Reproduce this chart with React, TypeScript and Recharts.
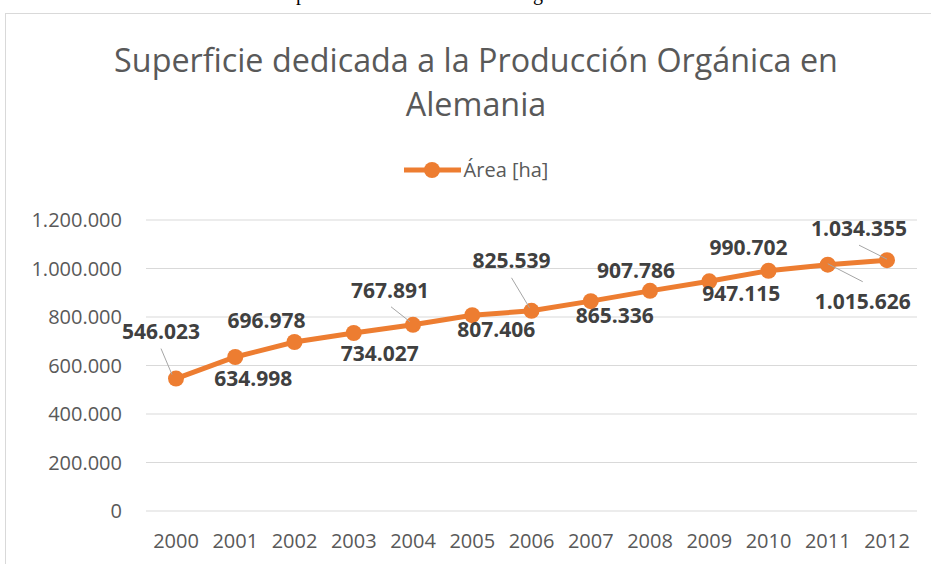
import { LineChart, Line, XAxis, YAxis, CartesianGrid, LabelList, Legend } from 'recharts';

const years = ['2000', '2001', '2002', '2003', '2004', '2005', '2006', '2007', '2008', '2009', '2010', '2011', '2012'];
const area = [546023, 634998, 696978, 734027, 767891, 807406, 825539, 865336, 907786, 947115, 990702, 1015626, 1034355];
const yTicks = [0, 200000, 400000, 600000, 800000, 1000000, 1200000];

const data = years.map((year, i) => ({ year, area: area[i] }));

const ORANGE = '#ED7D31';
const FONT = '"Open Sans", sans-serif';

// label placement around each point (Excel put them by hand)
const labelPos = [
  { dx: -15, dy: -47, lead: [-15, -30, -4, -4] },
  { dx: 18, dy: 21 },
  { dx: -28, dy: -22 },
  { dx: 26, dy: 20 },
  { dx: -23, dy: -34, lead: [-22, -18, -3, -3] },
  { dx: 24, dy: 14 },
  { dx: -20, dy: -50, lead: [-20, -33, -2, -3] },
  { dx: 24, dy: 14 },
  { dx: -14, dy: -20 },
  { dx: 32, dy: 12 },
  { dx: -20, dy: -23 },
  { dx: 35, dy: 37, lead: [0, -1, 35, 17] },
  { dx: -28, dy: -32, lead: [-28, -15, 0, -1] },
];

const fmt = (v: number) => v.toLocaleString('de-DE');

const PointLabel = (props: any) => {
  const { x, y, value, index } = props;
  const p = labelPos[index];
  if (!p) return null;
  return (
    <g>
      {p.lead && (
        <line
          x1={x + p.lead[0]}
          y1={y + p.lead[1]}
          x2={x + p.lead[2]}
          y2={y + p.lead[3]}
          stroke="#a6a6a6"
          strokeWidth={1}
        />
      )}
      <text
        x={x + p.dx}
        y={y + p.dy}
        dy="0.36em"
        textAnchor="middle"
        fontFamily={FONT}
        fontSize={21}
        fontWeight={700}
        fill="#404040"
      >
        {fmt(value)}
      </text>
    </g>
  );
};

const LegendContent = () => (
  <div style={{ display: 'flex', justifyContent: 'center', alignItems: 'center', fontFamily: FONT, fontSize: 20, color: '#595959' }}>
    <svg width={60} height={20}>
      <line x1={0} y1={10} x2={57} y2={10} stroke={ORANGE} strokeWidth={5} />
      <circle cx={28} cy={10} r={8} fill={ORANGE} />
    </svg>
    <span>Área [ha]</span>
  </div>
);

export default function App() {
  return (
    <div style={{ position: 'fixed', left: 0, top: 0, width: 931, height: 564, overflow: 'hidden', background: '#fff' }}>
      <div style={{ position: 'absolute', left: 0, top: -17, width: 931, fontFamily: '"Liberation Serif", serif', fontSize: 20, lineHeight: '20px', color: '#000' }}>
        <span style={{ position: 'absolute', left: 296 }}>p</span>
        <span style={{ position: 'absolute', left: 533 }}>g</span>
      </div>
      <div style={{ position: 'absolute', left: 5, top: 13, width: 960, height: 600, border: '1px solid #d9d9d9' }} />
      <div style={{ position: 'absolute', left: 0, top: 37, width: 952, textAlign: 'center', fontFamily: FONT, fontSize: 32.3, lineHeight: '44px', color: '#595959' }}>
        Superficie dedicada a la Producción Orgánica en
        <br />
        Alemania
      </div>
      <div style={{ position: 'absolute', left: 0, top: 0 }}>
        <LineChart width={931} height={564} data={data} margin={{ top: 220, right: 14, bottom: 0, left: 0 }}>
          <CartesianGrid vertical={false} stroke="#d9d9d9" strokeWidth={1} />
          <XAxis
            dataKey="year"
            axisLine={false}
            tickLine={false}
            tickSize={0}
            tickMargin={23}
            height={53}
            interval={0}
            padding={{ left: 30, right: 30 }}
            tick={{ fill: '#595959', fontSize: 20, fontFamily: FONT }}
          />
          <YAxis
            width={146}
            domain={[0, 1200000]}
            ticks={yTicks}
            tickFormatter={fmt}
            axisLine={false}
            tickLine={false}
            tickSize={0}
            tickMargin={24}
            tick={{ fill: '#595959', fontSize: 20, fontFamily: FONT }}
          />
          <Legend
            layout="horizontal"
            align="center"
            verticalAlign="middle"
            wrapperStyle={{ top: 156, left: 0, width: 952 }}
            content={LegendContent}
          />
          <Line
            dataKey="area"
            name="Área [ha]"
            stroke={ORANGE}
            strokeWidth={5}
            dot={{ r: 8, fill: ORANGE, stroke: ORANGE, strokeWidth: 0 }}
            isAnimationActive={false}
          >
            <LabelList dataKey="area" content={PointLabel} />
          </Line>
        </LineChart>
      </div>
    </div>
  );
}
